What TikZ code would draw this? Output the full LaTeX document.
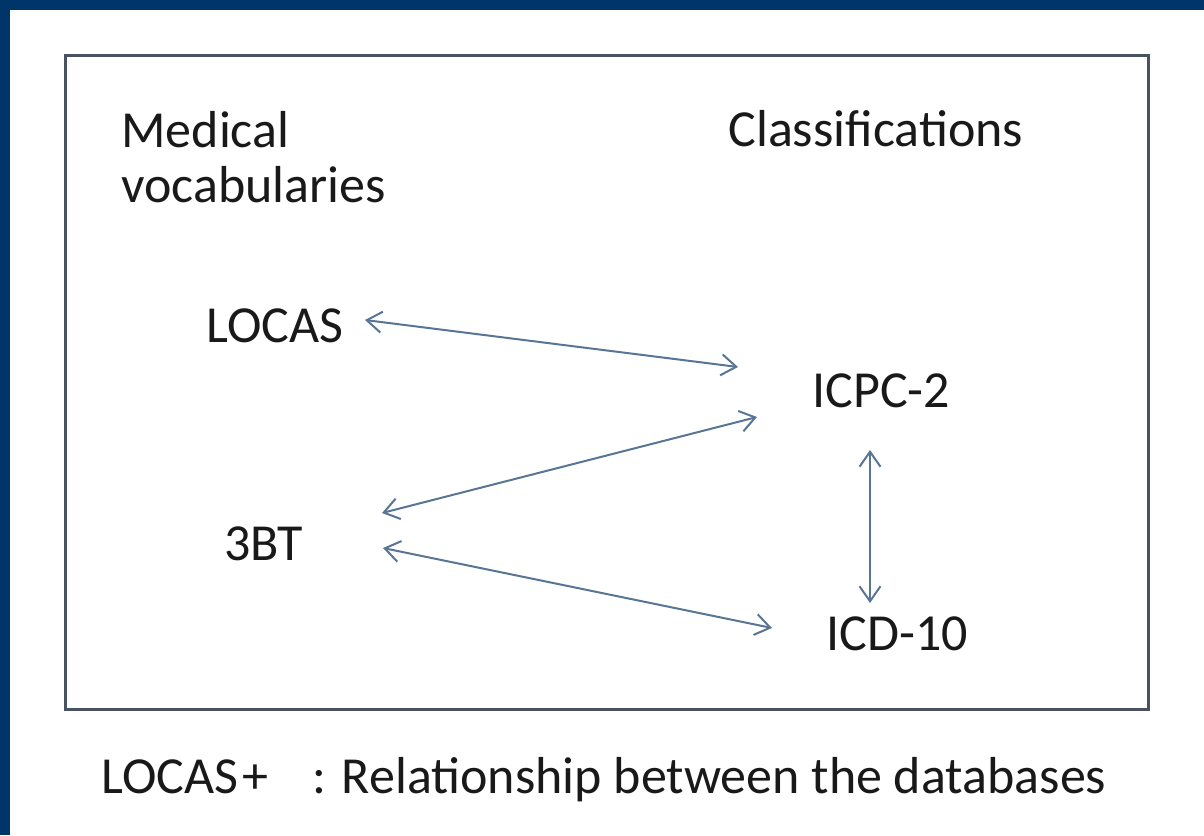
\documentclass[tikz,border=0pt]{standalone}
\usepackage{fontspec}
\setmainfont{Carlito}
\usetikzlibrary{arrows.meta, positioning}
\definecolor{navy}{RGB}{0,53,106}
\definecolor{framegray}{RGB}{72,82,96}
\definecolor{linkblue}{RGB}{88,118,148}
\definecolor{inkblack}{RGB}{25,25,25}

\begin{document}
\begin{tikzpicture}[
            x = 0.5pt, % one unit per pixel
            y = -0.5pt, % y runs downwards
            > = {Straight Barb[length=7.5pt, width=10.5pt]}, % arrow head style
            font = {\fontsize{26}{27.5}\selectfont}, % text size
        ] 
 \tikzstyle{term}=[
            anchor = base west,
            inner sep = 0pt,
            text = inkblack
        ]
\tikzstyle{link}=[
			<->,
			draw = linkblue,
			line width = 1pt
			]
\useasboundingbox (0,0) rectangle (1204,835);
\fill[white] (0,0) rectangle (1204,835);
\fill[navy] (0,0) rectangle (1204,10);
\fill[navy] (0,0) rectangle (10,835);
\draw[framegray, line width = 1.5pt] (65,55) rectangle (1148,709);
\node[term, anchor = north west, align = left](vocab) at (121,111){Medical\\vocabularies};
\node[term](classif) at (728,146){Classifications};
\node[term](locas) at (206,342){LOCAS};
\node[term](icpc) at (812,407){ICPC-2};
\node[term](tbt) at (224,560){3BT};
\node[term](icd) at (826,650){ICD-10};
\node[term](caption) at (101,793){LOCAS\kern2pt+\hspace{0.85em}: Relationship between the databases};
\draw[link] ([shift={(159,-22)}]locas.base west) -- ([shift={(-74,-40)}]icpc.base west);
\draw[link] ([shift={(-55,10)}]icpc.base west) -- ([shift={(158,-47)}]tbt.base west);
\draw[link] ([shift={(159,-12)}]tbt.base west) -- ([shift={(-54,-22)}]icd.base west);
\draw[link] ([shift={(58,43)}]icpc.base west) -- ([shift={(44,-47)}]icd.base west);
\end{tikzpicture}
\end{document}
